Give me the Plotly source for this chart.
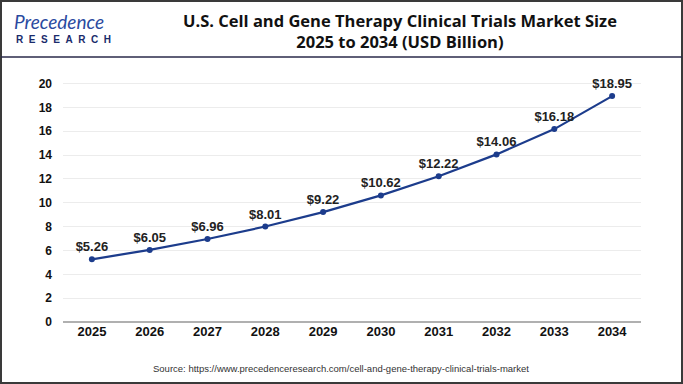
import plotly.graph_objects as go

years = ["2025", "2026", "2027", "2028", "2029", "2030", "2031", "2032", "2033", "2034"]
values = [5.26, 6.05, 6.96, 8.01, 9.22, 10.62, 12.22, 14.06, 16.18, 18.95]
labels = ["$5.26", "$6.05", "$6.96", "$8.01", "$9.22", "$10.62", "$12.22", "$14.06", "$16.18", "$18.95"]
y_ticks = [0, 2, 4, 6, 8, 10, 12, 14, 16, 18, 20]

W, H = 683, 384
L, R, T, B = 63, 42, 80, 62
pw, ph = W - L - R, H - T - B

def px(x):
    return (x - L) / pw

def py(y):
    return (H - B - y) / ph

fig = go.Figure()
fig.add_trace(go.Scatter(
    x=years, y=values, mode="lines+markers+text",
    text=labels, textposition="top center",
    textfont=dict(family="Arial", size=13, color="#222222", weight="bold"),
    line=dict(color="#1c3c8c", width=2.2),
    marker=dict(color="#1c3c8c", size=6),
    cliponaxis=False, showlegend=False,
))

nb = "\u00a0"
research = (nb * 2).join("RESEARCH")

fig.update_layout(
    width=W, height=H,
    margin=dict(l=L, r=R, t=T, b=B),
    paper_bgcolor="white", plot_bgcolor="white",
    xaxis=dict(type="category", range=[-0.5, 9.5], showgrid=False,
               tickfont=dict(family="Arial", size=13, color="#111111", weight="bold"),
               ticks="", showline=False, zeroline=False),
    yaxis=dict(range=[0, 20.3], tickvals=y_ticks, showgrid=True, gridcolor="#ececec",
               gridwidth=1, zeroline=True, zerolinecolor="#b0b0b0", zerolinewidth=2,
               tickfont=dict(family="Arial", size=12, color="#111111", weight="bold"),
               ticks="", ticklabelstandoff=10, showline=False),
    shapes=[
        dict(type="rect", xref="paper", yref="paper",
             x0=px(1), x1=px(W - 1), y0=py(H - 1), y1=py(1),
             line=dict(color="#3a3a3a", width=2), fillcolor="rgba(0,0,0,0)", layer="above"),
        dict(type="line", xref="paper", yref="paper",
             x0=px(1), x1=px(W - 1), y0=py(57), y1=py(57),
             line=dict(color="#2a2a4a", width=1.5)),
    ],
    annotations=[
        dict(text="U.S. Cell and Gene Therapy Clinical Trials Market Size<br>2025 to 2034 (USD Billion)",
             xref="paper", yref="paper", x=px(400), y=py(31), xanchor="center", yanchor="middle",
             showarrow=False, align="center",
             font=dict(family="Open Sans", size=16.5, color="#111111", weight="bold")),
        dict(text="<i>Precedence</i>", xref="paper", yref="paper", x=px(12), y=py(22),
             xanchor="left", yanchor="middle", showarrow=False,
             font=dict(family="Lato", size=19, color="#2a4aa0")),
        dict(text=research, xref="paper", yref="paper", x=px(14), y=py(39),
             xanchor="left", yanchor="middle", showarrow=False,
             font=dict(family="Arial", size=10, color="#1a2b6b", weight="bold")),
        dict(text="Source: https://www.precedenceresearch.com/cell-and-gene-therapy-clinical-trials-market",
             xref="paper", yref="paper", x=px(341), y=py(368), xanchor="center", yanchor="middle",
             showarrow=False, font=dict(family="Arial", size=9.5, color="#333333")),
    ],
)

fig.write_html("out.html", config={"displayModeBar": False},
               post_script="document.body.style.margin='0';document.body.style.overflow='hidden';")
